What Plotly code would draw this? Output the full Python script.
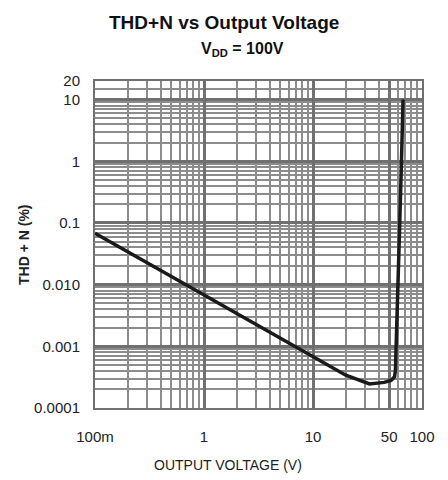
import plotly.graph_objects as go

# Data (Output voltage in V, THD+N in %)
voltage = [0.1, 0.2, 0.5, 1, 2, 5, 10, 20, 33, 45, 52, 56, 57, 60, 62, 65, 67]
thd_n = [0.068, 0.034, 0.0136, 0.0068, 0.0034, 0.00135, 0.00066, 0.00034, 0.000245, 0.00026, 0.00028, 0.00032, 0.0004, 0.006, 0.06, 1.2, 10.0]

x_tick_vals = [0.1, 1, 10, 50, 100]
x_tick_text = ["100m", "1", "10", "50", "100"]
y_tick_vals = [0.0001, 0.001, 0.01, 0.1, 1, 10, 20]
y_tick_text = ["0.0001", "0.001", "0.010", "0.1", "1", "10", "20"]

x_minor = [m * 10 ** e for e in (-1, 0, 1) for m in range(2, 10)]
y_minor = [m * 10 ** e for e in (-4, -3, -2, -1, 0) for m in range(2, 10)] + [15]

FONT = "Liberation Sans, Arial, sans-serif"
GRID = "#8c8c8c"
MAJOR = "#707070"

fig = go.Figure()
fig.add_trace(go.Scatter(
    x=voltage, y=thd_n, mode="lines",
    line=dict(color="#1a1a1a", width=3.5),
    showlegend=False, hoverinfo="skip",
))

PT, PB = 81, 408
PH = PB - PT
PL, PR = 95, 422
PW = PR - PL

annotations = [
    dict(text="<b>THD+N vs Output Voltage</b>", xref="paper", yref="paper",
         x=(224 - PL) / PW, y=1 + (PT - 22) / PH, xanchor="center", yanchor="middle",
         showarrow=False, font=dict(family=FONT, size=19, color="#111")),
    dict(text="<b>V<sub>DD</sub> = 100V</b>", xref="paper", yref="paper",
         x=(242 - PL) / PW, y=1 + (PT - 50) / PH, xanchor="center", yanchor="middle",
         showarrow=False, font=dict(family=FONT, size=16, color="#111")),
    dict(text="OUTPUT VOLTAGE (V)", xref="paper", yref="paper",
         x=(228 - PL) / PW, y=-(465 - PB) / PH, xanchor="center", yanchor="middle",
         showarrow=False, font=dict(family=FONT, size=14, color="#222")),
    dict(text="<b>THD + N (%)</b>", xref="paper", yref="paper", textangle=-90,
         x=(24 - PL) / PW, y=(PB - 245) / PH, xanchor="center", yanchor="middle",
         showarrow=False, font=dict(family=FONT, size=14, color="#222")),
]

fig.update_layout(
    width=448, height=480,
    margin=dict(l=PL, r=448 - PR, t=PT, b=480 - PB),
    paper_bgcolor="white", plot_bgcolor="white",
    font=dict(family=FONT, color="#222", size=12),
    annotations=annotations,
    xaxis=dict(
        type="log", range=[-1, 2],
        tickmode="array", tickvals=x_tick_vals, ticktext=x_tick_text,
        showgrid=True, gridcolor=MAJOR, gridwidth=3,
        minor=dict(tickmode="array", tickvals=x_minor, showgrid=True,
                   gridcolor=GRID, gridwidth=2, ticks=""),
        ticks="", ticklabelstandoff=14, automargin=False,
        showline=True, linecolor=MAJOR, linewidth=2, mirror=True,
        zeroline=False,
        tickfont=dict(size=15),
    ),
    yaxis=dict(
        type="log", range=[-4, 1.30103],
        tickmode="array", tickvals=y_tick_vals, ticktext=y_tick_text,
        showgrid=True, gridcolor=MAJOR, gridwidth=3,
        minor=dict(tickmode="array", tickvals=y_minor, showgrid=True,
                   gridcolor=GRID, gridwidth=2, ticks=""),
        ticks="", ticklabelstandoff=10, automargin=False,
        showline=True, linecolor=MAJOR, linewidth=2, mirror=True,
        zeroline=False,
        tickfont=dict(size=15),
    ),
)

fig.write_html(
    "out.html",
    config={"displayModeBar": False, "responsive": False},
    post_script="document.body.style.margin='0';document.body.style.padding='0';",
)
